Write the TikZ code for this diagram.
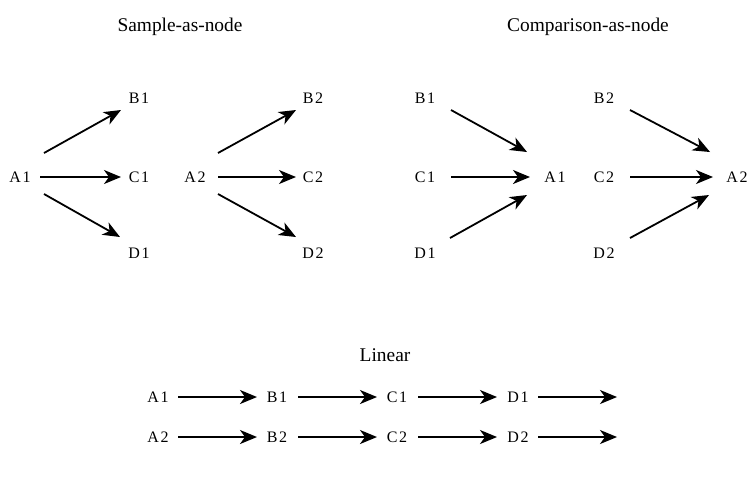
\documentclass[tikz,border=0pt]{standalone}
\usepackage{fontspec}
\setmainfont{Liberation Serif}
\usetikzlibrary{arrows.meta}
\tikzset{
  lbl/.style={inner sep=0pt, font=\fontsize{8}{9}\selectfont\addfontfeature{LetterSpace=10}},
  ttl/.style={inner sep=0pt, font=\fontsize{9.7}{11}\selectfont},
  arr/.style={line width=0.9pt, -{Stealth[length=8.5pt,width=7pt,inset=2.5pt]}}
}
\begin{document}
\begin{tikzpicture}[x=0.5pt,y=-0.5pt]
\useasboundingbox (0,0) rectangle (747,478);
% titles
\node[ttl] (t1) at (180,27) {Sample-as-node};
\node[ttl] (t2) at (588,27) {Comparison-as-node};
\node[ttl] (t3) at (385,355) {Linear};
% sample-as-node, group 1
\node[lbl] (sA1) at (20,177) {A1};
\node[lbl] (sB1) at (139,98) {B1};
\node[lbl] (sC1) at (139,177) {C1};
\node[lbl] (sD1) at (139,253) {D1};
\draw[arr] ([shift={(24,-24)}]sA1.center) -- ([shift={(-18,12)}]sB1.center);
\draw[arr] ([shift={(20,0)}]sA1.center) -- ([shift={(-18,0)}]sC1.center);
\draw[arr] ([shift={(24,17)}]sA1.center) -- ([shift={(-19,-16)}]sD1.center);
% sample-as-node, group 2
\node[lbl] (sA2) at (195,177) {A2};
\node[lbl] (sB2) at (313,98) {B2};
\node[lbl] (sC2) at (313,177) {C2};
\node[lbl] (sD2) at (313,253) {D2};
\draw[arr] ([shift={(23,-24)}]sA2.center) -- ([shift={(-17,12)}]sB2.center);
\draw[arr] ([shift={(23,0)}]sA2.center) -- ([shift={(-17,0)}]sC2.center);
\draw[arr] ([shift={(23,17)}]sA2.center) -- ([shift={(-17,-16)}]sD2.center);
% comparison-as-node, group 1
\node[lbl] (cB1) at (425,98) {B1};
\node[lbl] (cC1) at (425,177) {C1};
\node[lbl] (cD1) at (425,253) {D1};
\node[lbl] (cA1) at (555,177) {A1};
\draw[arr] ([shift={(26,12)}]cB1.center) -- ([shift={(-28,-25)}]cA1.center);
\draw[arr] ([shift={(26,0)}]cC1.center) -- ([shift={(-25,0)}]cA1.center);
\draw[arr] ([shift={(25,-15)}]cD1.center) -- ([shift={(-28,18)}]cA1.center);
% comparison-as-node, group 2
\node[lbl] (cB2) at (604,98) {B2};
\node[lbl] (cC2) at (604,177) {C2};
\node[lbl] (cD2) at (604,253) {D2};
\node[lbl] (cA2) at (737,177) {A2};
\draw[arr] ([shift={(26,12)}]cB2.center) -- ([shift={(-27,-25)}]cA2.center);
\draw[arr] ([shift={(26,0)}]cC2.center) -- ([shift={(-24,0)}]cA2.center);
\draw[arr] ([shift={(26,-15)}]cD2.center) -- ([shift={(-28,18)}]cA2.center);
% linear
\foreach \r/\y in {1/397,2/437}{
  \node[lbl] (lA\r) at (158,\y) {A\r};
  \node[lbl] (lB\r) at (277,\y) {B\r};
  \node[lbl] (lC\r) at (397,\y) {C\r};
  \node[lbl] (lD\r) at (518,\y) {D\r};
  \coordinate (lE\r) at (617,\y);
  \draw[arr] ([shift={(20,0)}]lA\r.center) -- ([shift={(-20,0)}]lB\r.center);
  \draw[arr] ([shift={(21,0)}]lB\r.center) -- ([shift={(-20,0)}]lC\r.center);
  \draw[arr] ([shift={(21,0)}]lC\r.center) -- ([shift={(-21,0)}]lD\r.center);
  \draw[arr] ([shift={(20,0)}]lD\r.center) -- (lE\r);
}
\end{tikzpicture}
\end{document}
